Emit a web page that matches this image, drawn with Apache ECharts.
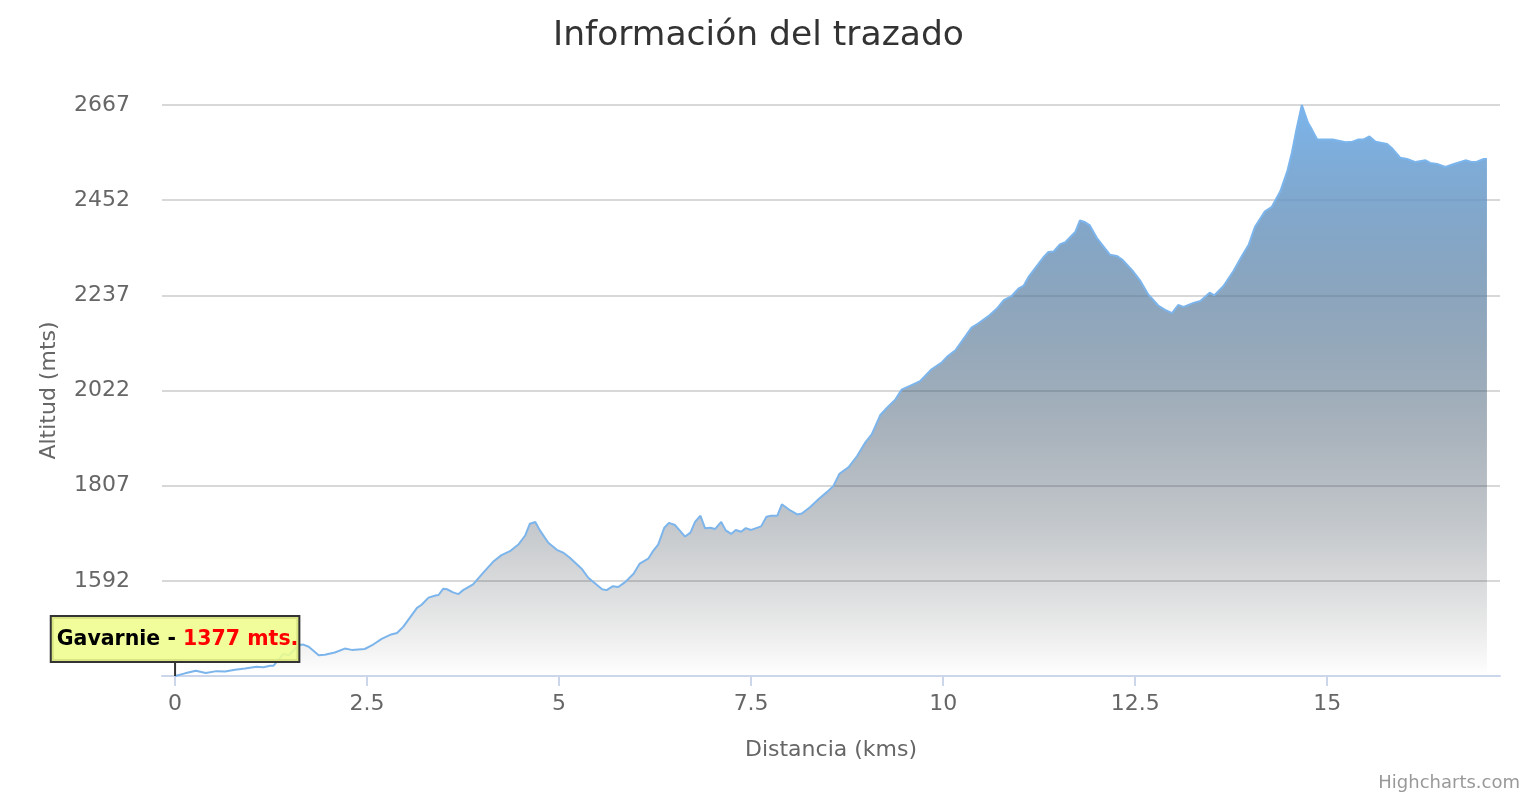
<!DOCTYPE html>
<html>
<head>
<meta charset="utf-8">
<title>Información del trazado</title>
<script src="https://cdn.jsdelivr.net/npm/echarts@6/dist/echarts.min.js"></script>
<style>
  html, body { margin: 0; padding: 0; background: #fff; }
  #perfil { width: 1540px; height: 800px; }
</style>
</head>
<body>
<div id="perfil"></div>
<script>
// ----------------datos del perfil----------------

// distancia (km)
const distancias = [
  0, 0.13, 0.27, 0.40, 0.54, 0.65, 0.78, 0.91, 1.06, 1.15, 1.24, 1.28, 1.41, 1.48, 1.61, 1.67, 1.74, 1.87, 1.95, 2.08,
  2.21, 2.30, 2.47, 2.56, 2.69, 2.80, 2.89, 2.97, 3.15, 3.21, 3.30, 3.39, 3.43, 3.49, 3.54, 3.62, 3.69, 3.75, 3.88, 4.01,
  4.14, 4.25, 4.36, 4.47, 4.56, 4.62, 4.69, 4.75, 4.86, 4.97, 5.06, 5.14, 5.30, 5.38, 5.56, 5.62, 5.70, 5.77, 5.86, 5.97,
  6.05, 6.16, 6.23, 6.29, 6.37, 6.43, 6.51, 6.64, 6.71, 6.77, 6.84, 6.90, 6.97, 7.03, 7.11, 7.17, 7.24, 7.30, 7.37, 7.43,
  7.50, 7.63, 7.70, 7.76, 7.84, 7.90, 8.01, 8.10, 8.16, 8.27, 8.38, 8.49, 8.57, 8.65, 8.77, 8.88, 8.98, 9.07, 9.18, 9.27,
  9.38, 9.46, 9.61, 9.70, 9.85, 9.98, 10.05, 10.16, 10.37, 10.46, 10.59, 10.70, 10.79, 10.89, 10.98, 11.05, 11.11, 11.31, 11.37, 11.44,
  11.52, 11.59, 11.72, 11.78, 11.85, 11.91, 12.00, 12.17, 12.26, 12.33, 12.46, 12.57, 12.67, 12.80, 12.89, 12.98, 13.06, 13.13, 13.26, 13.35,
  13.47, 13.53, 13.65, 13.78, 13.89, 13.98, 14.06, 14.19, 14.28, 14.39, 14.48, 14.54, 14.60, 14.67, 14.75, 14.80, 14.87, 15.07, 15.24, 15.33,
  15.41, 15.47, 15.55, 15.63, 15.78, 15.84, 15.95, 16.04, 16.15, 16.28, 16.34, 16.43, 16.54, 16.64, 16.80, 16.89, 16.95, 17.04, 17.08
];

// altitud (mts)
const altitudes = [
  1377, 1383, 1389, 1384, 1388, 1387, 1391, 1394, 1398, 1397, 1400, 1400, 1427, 1424, 1447, 1448, 1443, 1424, 1425, 1430,
  1439, 1436, 1438, 1446, 1461, 1470, 1474, 1488, 1531, 1538, 1554, 1559, 1560, 1574, 1573, 1566, 1562, 1571, 1584, 1610,
  1635, 1650, 1659, 1674, 1695, 1721, 1725, 1706, 1678, 1662, 1655, 1644, 1618, 1599, 1573, 1571, 1580, 1578, 1589, 1608,
  1631, 1642, 1661, 1674, 1712, 1723, 1718, 1692, 1701, 1725, 1739, 1711, 1712, 1709, 1725, 1706, 1698, 1707, 1703, 1711,
  1707, 1715, 1737, 1739, 1739, 1765, 1751, 1742, 1744, 1759, 1777, 1793, 1806, 1834, 1849, 1874, 1903, 1923, 1966, 1983,
  2002, 2024, 2036, 2043, 2070, 2085, 2098, 2113, 2164, 2174, 2190, 2207, 2226, 2235, 2252, 2259, 2278, 2324, 2335, 2336,
  2352, 2357, 2380, 2406, 2402, 2395, 2367, 2329, 2326, 2318, 2294, 2269, 2239, 2214, 2204, 2197, 2215, 2211, 2220, 2224,
  2243, 2237, 2258, 2292, 2326, 2352, 2392, 2427, 2437, 2472, 2517, 2559, 2612, 2667, 2627, 2612, 2589, 2589, 2583, 2584,
  2589, 2589, 2596, 2584, 2579, 2570, 2548, 2545, 2538, 2542, 2536, 2534, 2527, 2533, 2542, 2538, 2539, 2545, 2545
];

// marcas de los ejes
const ticksDistancia = [0, 2.5, 5, 7.5, 10, 12.5, 15];
const ticksAltitud = [1377, 1592, 1807, 2022, 2237, 2452, 2667];
// la etiqueta del minimo no se muestra
const etiquetasAltitud = [1592, 1807, 2022, 2237, 2452, 2667];

// punto de salida
const salida = "Gavarnie";

// ----------------grafico de area----------------

let chartDom = document.getElementById("perfil");
let myChart = echarts.init(chartDom);
let option;

const fuente = "DejaVu Sans";

// degradado azul -> transparente (como el relleno original)
const paradas = [];
for (let i = 0; i <= 10; i++) {
  const t = i / 10;
  const k = 1 - t;
  paradas.push({
    offset: t,
    color: "rgba(" + Math.round(124 * k) + "," + Math.round(181 * k) + "," + Math.round(236 * k) + "," + k.toFixed(2) + ")",
  });
}

option = {
  animation: false,
  backgroundColor: "#fff",
  title: {
    text: "Información del trazado",
    left: 548,
    top: 14,
    textStyle: {
      fontFamily: fuente,
      fontSize: 34.5,
      fontWeight: "normal",
      color: "#333333",
    },
  },
  grid: {
    left: 162,
    right: 40,
    top: 105,
    bottom: 124,
  },
  xAxis: {
    type: "value",
    min: -0.17,
    max: 17.25,
    name: "Distancia (kms)",
    nameLocation: "middle",
    nameGap: 63,
    nameTextStyle: { fontFamily: fuente, fontSize: 22, color: "#666666" },
    axisLine: { lineStyle: { color: "#ccd6eb", width: 2 } },
    axisTick: {
      customValues: ticksDistancia,
      length: 10,
      lineStyle: { color: "#ccd6eb", width: 2 },
    },
    axisLabel: {
      customValues: ticksDistancia,
      margin: 17,
      fontFamily: fuente,
      fontSize: 22,
      color: "#666666",
    },
    splitLine: { show: false },
  },
  yAxis: {
    type: "value",
    min: ticksAltitud[0],
    max: ticksAltitud[ticksAltitud.length - 1],
    name: "Altitud (mts)",
    nameLocation: "middle",
    nameRotate: 90,
    nameGap: 102,
    nameTextStyle: { fontFamily: fuente, fontSize: 22, color: "#666666" },
    axisLine: { show: false },
    axisTick: { show: false, customValues: ticksAltitud },
    axisLabel: {
      customValues: etiquetasAltitud,
      formatter: (v) => String(v),
      margin: 32,
      fontFamily: fuente,
      fontSize: 22,
      color: "#666666",
    },
    splitLine: { show: true, lineStyle: { color: "#d8d8d8", width: 2 } },
  },
  series: [
    {
      type: "line",
      data: distancias.map((d, i) => [d, altitudes[i]]),
      showSymbol: false,
      smooth: false,
      lineStyle: { color: "#7cb5ec", width: 2 },
      itemStyle: { color: "#7cb5ec" },
      areaStyle: {
        origin: "start",
        opacity: 1,
        color: new echarts.graphic.LinearGradient(0, 0, 0, 1, paradas),
      },
      markPoint: {
        silent: true,
        symbol: "rect",
        symbolSize: [2, 15],
        symbolOffset: [0, "-50%"],
        itemStyle: { color: "#333333" },
        label: {
          show: true,
          position: "top",
          distance: 0,
          formatter: "{a|" + salida + " - }{b|" + altitudes[0] + " mts.}",
          backgroundColor: "rgba(238,253,140,0.88)",
          borderColor: "#333333",
          borderWidth: 2,
          padding: [12, 0, 11, 5],
          rich: {
            a: { fontFamily: fuente, fontSize: 20.5, fontWeight: "bold", color: "#000000" },
            b: { fontFamily: fuente, fontSize: 20.5, fontWeight: "bold", color: "#ff0000" },
          },
        },
        data: [{ coord: [distancias[0], altitudes[0]] }],
      },
    },
  ],
  graphic: [
    {
      type: "text",
      right: 20,
      bottom: 8,
      style: {
        text: "Highcharts.com",
        fontFamily: fuente,
        fontSize: 18,
        fill: "#999999",
      },
    },
  ],
};

myChart.setOption(option);

window.onresize = function () {
  myChart.resize();
};
</script>
</body>
</html>
